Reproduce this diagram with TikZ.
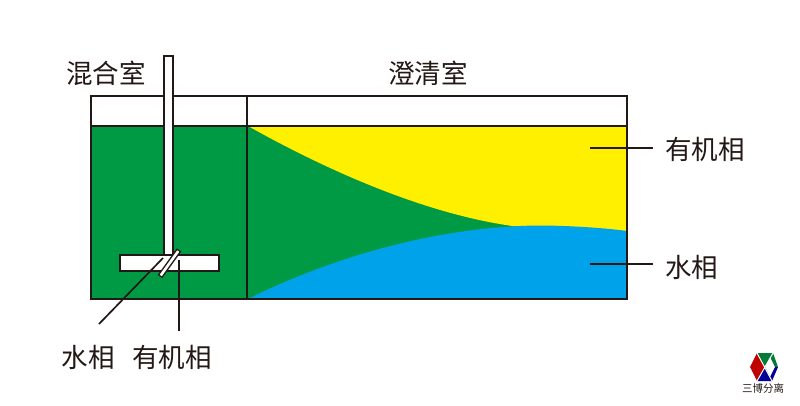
\documentclass[tikz,border=0pt]{standalone}
\usepackage{fontspec}
\setmainfont{Noto Sans CJK SC}
\definecolor{gr}{HTML}{009A44}
\definecolor{ye}{HTML}{FFF000}
\definecolor{bl}{HTML}{00A2E9}
\definecolor{ln}{HTML}{231815}
\tikzset{lab/.style={inner sep=0pt,text=ln,font=\fontsize{26.5pt}{30pt}\selectfont},
 edge/.style={draw=ln,line width=2pt},
 thin lead/.style={draw=ln,line width=1.7pt}}
\begin{document}
\begin{tikzpicture}[x=1pt,y=-1pt]
\useasboundingbox[fill=white] (0,0) rectangle (800,405);
% liquid regions
\fill[gr] (91,126) rectangle (627,299);
\fill[ye] (248,126) .. controls (330,172) and (430,216) .. (520,227) -- (627,231) -- (627,126) -- cycle;
\fill[bl] (248,299) .. controls (330,258) and (440,225) .. (545,225.5) .. controls (575,226) and (605,228) .. (627,231) -- (627,299) -- cycle;
% tank
\draw[edge] (91,96) rectangle (627,299);
\draw[edge] (247,96) -- (247,299);
\draw[edge] (91,126) -- (627,126);
% shaft and blades
\draw[edge,fill=white] (164,56) rectangle (173,256);
\draw[edge,fill=white] (120,255) rectangle (219,271);
\coordinate (slantA) at (160,276.5);
\coordinate (slantB) at (179,250);
\draw[draw=ln,line width=5.5pt] (slantA) -- (slantB);
\draw[draw=white,line width=2.6pt,shorten <=1.3pt,shorten >=1.3pt] (slantA) -- (slantB);
% labels
\node[lab] (mix) at (106,73) {混合室};
\node[lab] (clar) at (428,73) {澄清室};
\node[lab,anchor=west] (orgR) at (665,149) {有机相};
\node[lab,anchor=west] (aqR) at (665,267) {水相};
\node[lab] (aqB) at (88,357) {水相};
\node[lab] (orgB) at (172,357) {有机相};
% leaders
\coordinate (a1) at (590,148); \coordinate (a2) at (653,148);
\coordinate (b1) at (590,264); \coordinate (b2) at (653,264);
\coordinate (c1) at (163,258); \coordinate (c2) at (99,324);
\coordinate (d1) at (179,260); \coordinate (d2) at (179,331);
\draw[thin lead] (a1) -- (a2);
\draw[thin lead] (b1) -- (b2);
\draw[thin lead] (c1) -- (c2);
\draw[thin lead] (d1) -- (d2);
% logo
\fill[gr!80!black] (757,353) -- (773,353) -- (778,367) -- (775,367) -- (770,357) -- (765,367) -- cycle;
\fill[red!75!black] (757,353) -- (750,367) -- (757,381) -- (765,367) -- cycle;
\fill[blue!60!black] (757,381) -- (772,381) -- (778,367) -- (775,367) -- (770,377) -- (765,367) -- cycle;
\draw[white,line width=1pt] (757,353) -- (772,381) (773,353) -- (757,381);
\node[inner sep=0pt,text=ln,font=\fontsize{10.5pt}{11pt}\selectfont] (logo) at (763,388) {三博分离};
\end{tikzpicture}
\end{document}
